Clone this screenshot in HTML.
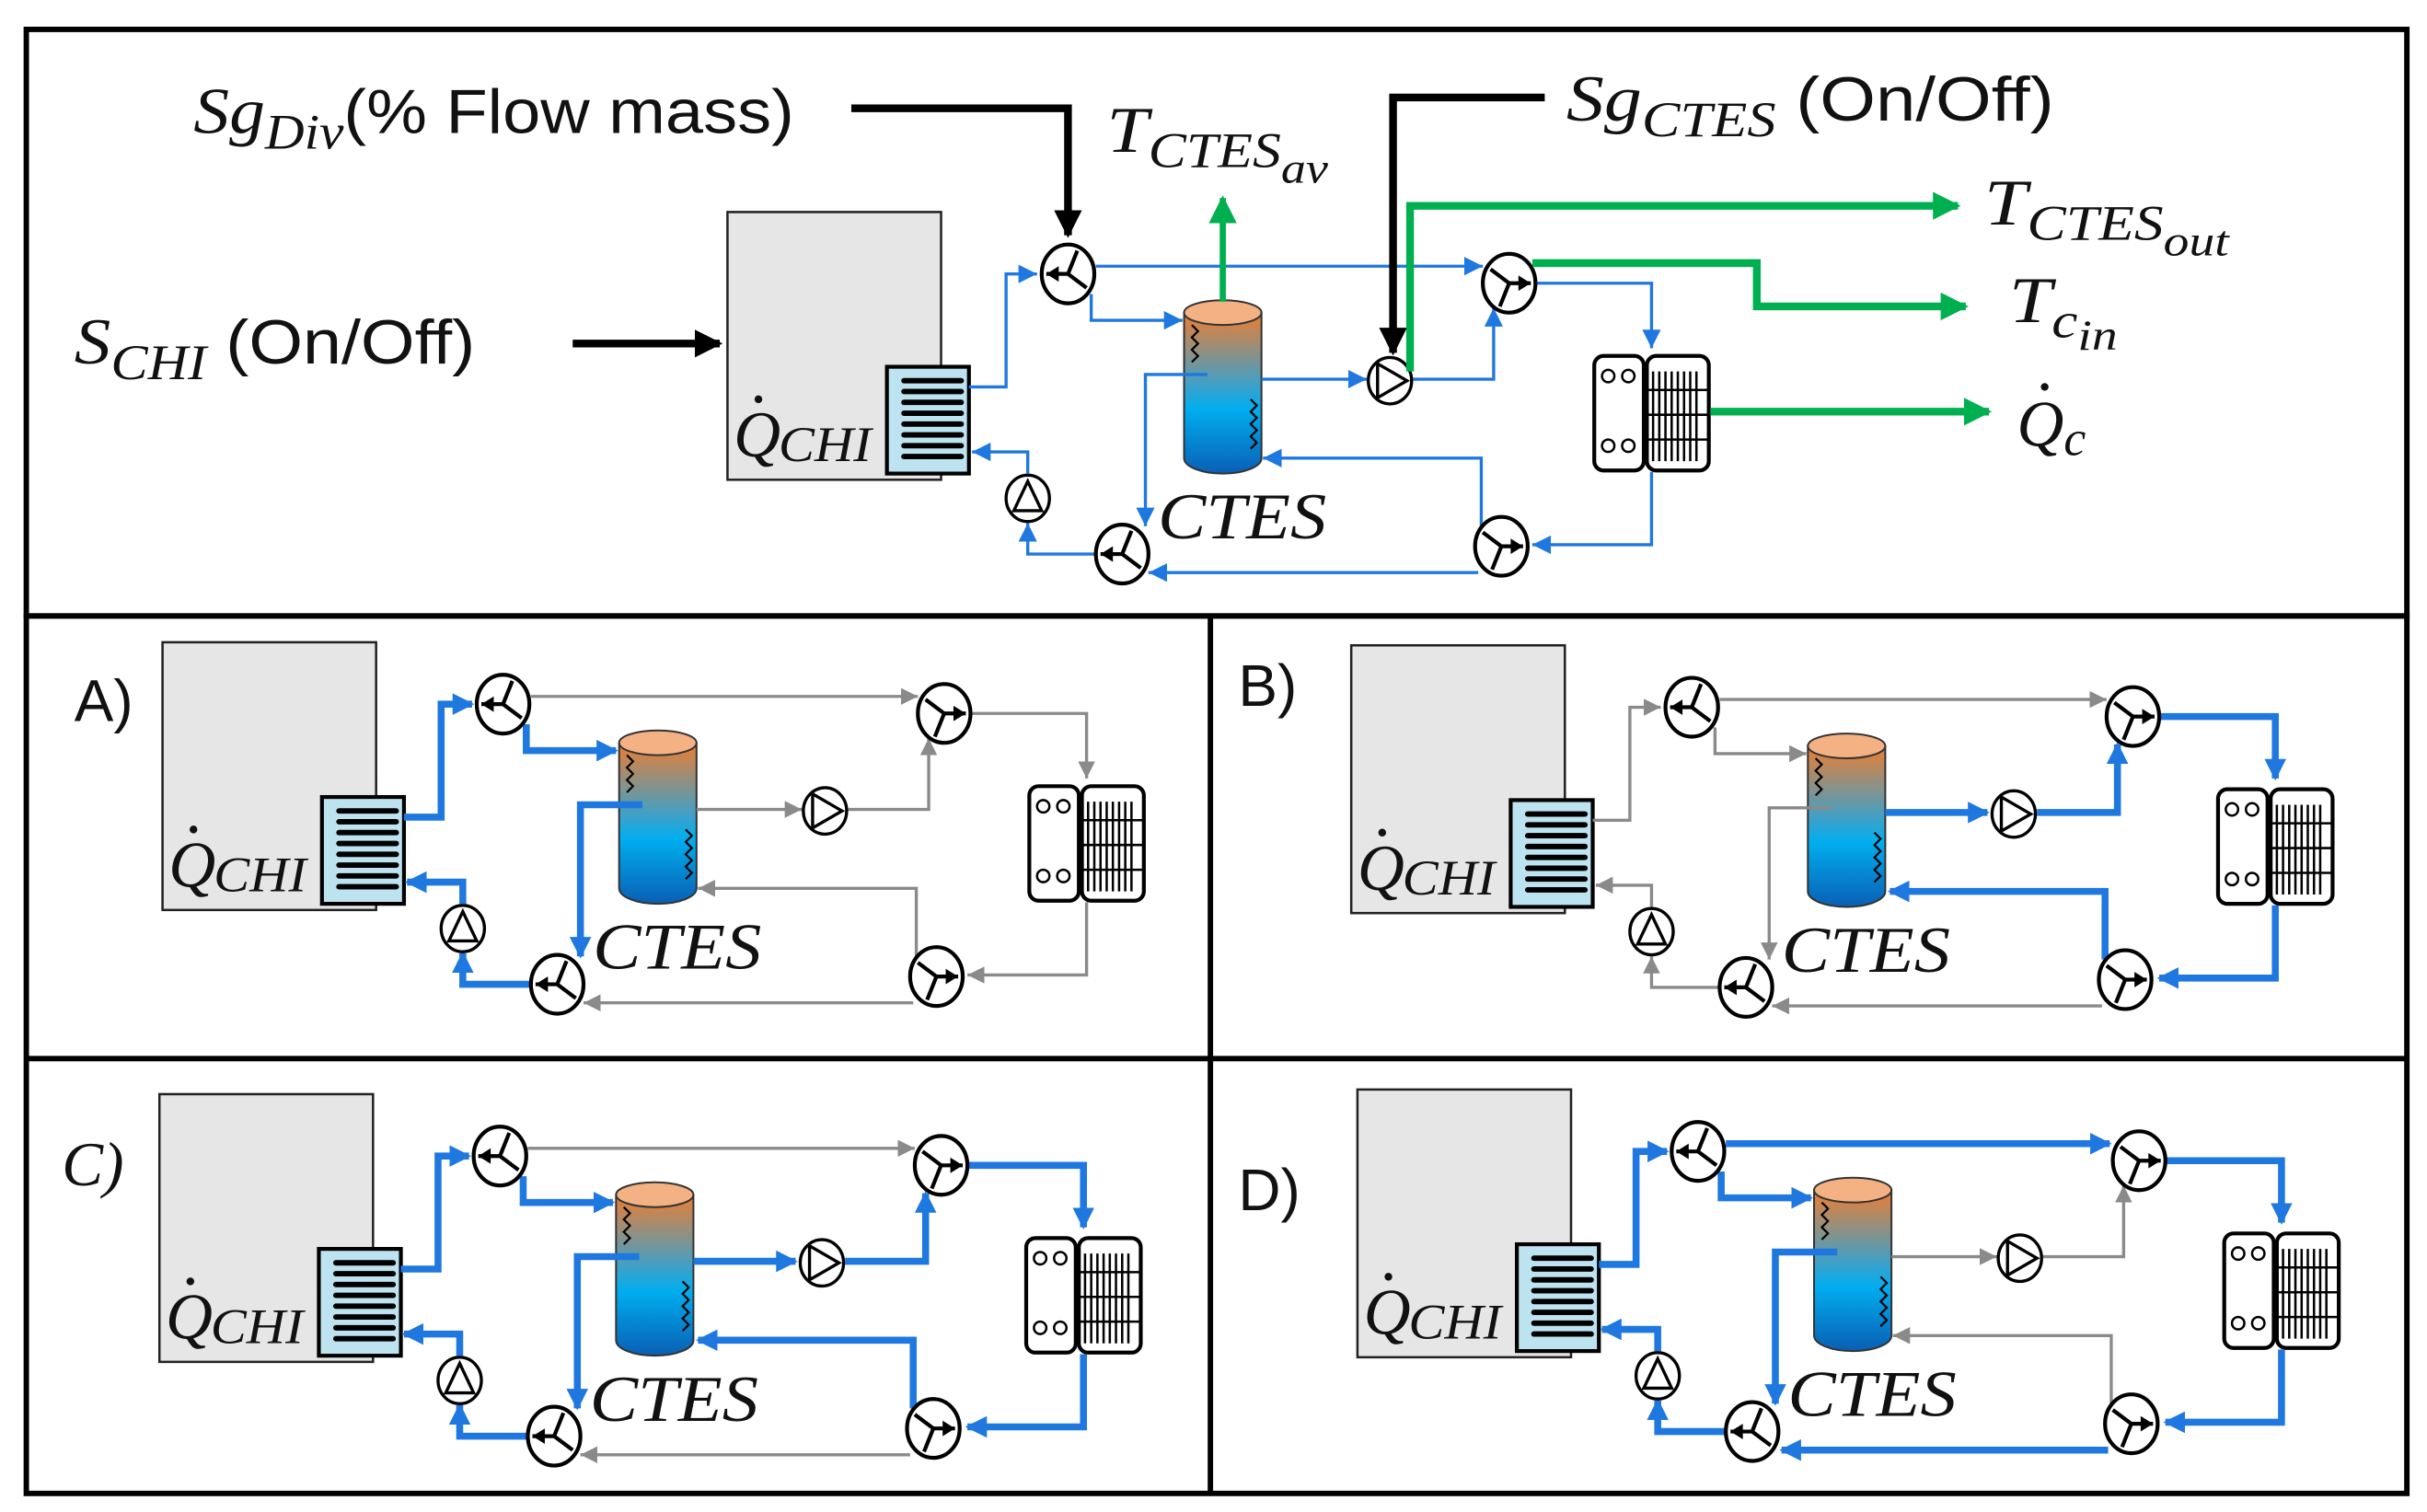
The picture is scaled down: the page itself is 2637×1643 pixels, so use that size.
<!DOCTYPE html>
<html><head><meta charset="utf-8"><style>
html,body{margin:0;padding:0;background:#fff}
svg{display:block}
.m{font-family:"Liberation Serif",serif;font-style:italic}
.s{font-family:"Liberation Sans",sans-serif}
.b{fill:none;stroke:#1f78e0;stroke-width:2;marker-end:url(#mb)}
.B{fill:none;stroke:#1f78e0;stroke-width:4.5;marker-end:url(#mB)}
.g{fill:none;stroke:#8a8a8a;stroke-width:2;marker-end:url(#mg)}
</style></head><body>
<svg width="2637" height="1643" viewBox="0 0 1568 977" preserveAspectRatio="none" xmlns="http://www.w3.org/2000/svg">
<defs>
<marker id="mb" markerUnits="userSpaceOnUse" markerWidth="12" markerHeight="12" refX="10" refY="5" orient="auto" viewBox="0 0 10 10"><path d="M0,0L10,5L0,10z" fill="#1f78e0"/></marker>
<marker id="mB" markerUnits="userSpaceOnUse" markerWidth="14" markerHeight="14" refX="9" refY="5" orient="auto" viewBox="0 0 10 10"><path d="M0,0L10,5L0,10z" fill="#1f78e0"/></marker>
<marker id="mg" markerUnits="userSpaceOnUse" markerWidth="11" markerHeight="11" refX="10" refY="5" orient="auto" viewBox="0 0 10 10"><path d="M0,0L10,5L0,10z" fill="#8a8a8a"/></marker>
<marker id="mk" markerUnits="userSpaceOnUse" markerWidth="18" markerHeight="18" refX="9" refY="5" orient="auto" viewBox="0 0 10 10"><path d="M0,0L10,5L0,10z" fill="#000"/></marker>
<marker id="mG" markerUnits="userSpaceOnUse" markerWidth="18" markerHeight="18" refX="9" refY="5" orient="auto" viewBox="0 0 10 10"><path d="M0,0L10,5L0,10z" fill="#00b050"/></marker>
<linearGradient id="tg" x1="0" y1="0" x2="0" y2="1">
<stop offset="0" stop-color="#ed7d31"/><stop offset="0.45" stop-color="#3fa0c8"/><stop offset="0.6" stop-color="#00aeef"/><stop offset="1" stop-color="#0a5fb4"/></linearGradient>
<g id="valve"><ellipse cx="0" cy="0" rx="17" ry="19" fill="#fff" stroke="#000" stroke-width="2.5"/><path d="M0,0L-12,-9M0,0L14,0M0,0L-6,15" stroke="#000" stroke-width="2.5" fill="none"/><path d="M6,-5L14,0L6,5z" fill="#000"/></g>
<g id="pumpR"><ellipse cx="0" cy="0" rx="14" ry="15" fill="#fff" stroke="#000" stroke-width="2"/><path d="M-8,-11L11,0L-8,11z" fill="none" stroke="#000" stroke-width="2"/></g>
<g id="pumpU"><ellipse cx="0" cy="0" rx="14" ry="15" fill="#fff" stroke="#000" stroke-width="2"/><path d="M-9,8L0,-11L9,8z" fill="none" stroke="#000" stroke-width="2"/></g>
<g id="hx"><rect x="1030" y="230" width="32" height="74" rx="6" fill="#fff" stroke="#000" stroke-width="2.5"/>
<circle cx="1039" cy="243" r="4" fill="none" stroke="#000" stroke-width="1.5"/><circle cx="1052" cy="243" r="4" fill="none" stroke="#000" stroke-width="1.5"/>
<circle cx="1039" cy="288" r="4" fill="none" stroke="#000" stroke-width="1.5"/><circle cx="1052" cy="288" r="4" fill="none" stroke="#000" stroke-width="1.5"/>
<rect x="1064" y="230" width="40" height="74" rx="6" fill="#fff" stroke="#000" stroke-width="2.5"/>
<path d="M1068,240V298M1072,240V298M1076,240V298M1080,240V298M1084,240V298M1088,240V298M1092,240V298M1096,240V298M1064,252H1104M1064,268H1104M1064,284H1104" stroke="#000" stroke-width="1.5"/></g>
<g id="base">
<rect x="470" y="137" width="138" height="173" fill="#e6e6e6" stroke="#222" stroke-width="1.5"/>
<circle cx="490" cy="258" r="2.5" fill="#111"/>
<text x="474" y="295" class="m" font-size="42" fill="#111">Q</text><text x="503" y="298" class="m" font-size="32" fill="#111" textLength="60" lengthAdjust="spacingAndGlyphs">CHI</text>
<rect x="573" y="237" width="53" height="69" fill="#bde3f0" stroke="#000" stroke-width="2.5"/>
<path d="M584,246H621M584,253H621M584,260H621M584,267H621M584,274H621M584,281H621M584,288H621M584,295H621" stroke="#000" stroke-width="3.5" stroke-linecap="round"/>
<path d="M765,202V296A25,10 0 0 0 815,296V202z" fill="url(#tg)" stroke="#333" stroke-width="1.2"/>
<ellipse cx="790" cy="202" rx="25" ry="8" fill="#f4b183" stroke="#333" stroke-width="1.2"/>
<path d="M770,210l4,4l-4,4l4,4l-4,4l4,4l-4,4M808,258l4,4l-4,4l4,4l-4,4l4,4l-4,4l4,4l-4,4" fill="none" stroke="#000" stroke-width="1.3"/>
<text x="748" y="348" class="m" font-size="42" fill="#111" textLength="109" lengthAdjust="spacingAndGlyphs">CTES</text>
<use href="#hx"/>
</g>
<g id="syms">
<use href="#valve" transform="translate(690,177) rotate(180)"/>
<use href="#valve" transform="translate(975,183)"/>
<use href="#valve" transform="translate(970,353)"/>
<use href="#valve" transform="translate(725,358) rotate(180)"/>
<use href="#pumpR" x="898" y="246"/>
<use href="#pumpU" x="664" y="322"/>
</g>
</defs>

<rect x="17" y="19" width="1538" height="379" fill="none" stroke="#000" stroke-width="3.5"/>
<rect x="17" y="398" width="1538" height="567" fill="none" stroke="#000" stroke-width="3.5"/>
<line x1="17" y1="684" x2="1555" y2="684" stroke="#000" stroke-width="3.5"/>
<line x1="782" y1="398" x2="782" y2="965" stroke="#000" stroke-width="3.5"/>

<g>
<use href="#base"/>
<path class="b" d="M626,250H650V177H670"/>
<path class="b" d="M708,172H958"/>
<path class="b" d="M705,190V207H764"/>
<path class="b" d="M815,245H883"/>
<path class="b" d="M913,245H965V199"/>
<path class="b" d="M993,183H1067V225"/>
<path class="b" d="M1067,305V352H990"/>
<path class="b" d="M957,340V296H816"/>
<path class="b" d="M955,370H742"/>
<path class="b" d="M780,242H740V340"/>
<path class="b" d="M707,358H664V338"/>
<path class="b" d="M664,306V292H628"/>
<use href="#syms"/>
<path d="M550,70H690V152" fill="none" stroke="#000" stroke-width="5" marker-end="url(#mk)"/>
<path d="M370,222H465" fill="none" stroke="#000" stroke-width="5" marker-end="url(#mk)"/>
<path d="M998,63H900V228" fill="none" stroke="#000" stroke-width="5" marker-end="url(#mk)"/>
<path d="M790,195V128" fill="none" stroke="#00b050" stroke-width="4" marker-end="url(#mG)"/>
<path d="M911,240V133H1265" fill="none" stroke="#00b050" stroke-width="5" marker-end="url(#mG)"/>
<path d="M990,170H1135V198H1270" fill="none" stroke="#00b050" stroke-width="5" marker-end="url(#mG)"/>
<path d="M1105,266H1285" fill="none" stroke="#00b050" stroke-width="5" marker-end="url(#mG)"/>
<text x="125" y="86" font-size="42" fill="#111" textLength="388" lengthAdjust="spacingAndGlyphs"><tspan class="m">Sg</tspan><tspan class="m" font-size="32" dy="10">Div</tspan><tspan class="s" font-size="40" dy="-10">(% Flow mass)</tspan></text>
<text x="48" y="235" font-size="42" fill="#111" textLength="259" lengthAdjust="spacingAndGlyphs"><tspan class="m">S</tspan><tspan class="m" font-size="32" dy="10">CHI</tspan><tspan class="s" font-size="40" dy="-10"> (On/Off)</tspan></text>
<text x="1012" y="78" font-size="42" fill="#111" textLength="315" lengthAdjust="spacingAndGlyphs"><tspan class="m">Sg</tspan><tspan class="m" font-size="32" dy="10">CTES</tspan><tspan class="s" font-size="40" dy="-10"> (On/Off)</tspan></text>
<text x="715" y="98" font-size="42" fill="#111" class="m" textLength="143" lengthAdjust="spacingAndGlyphs">T<tspan font-size="32" dy="10">CTES</tspan><tspan font-size="28" dy="10">av</tspan></text>
<text x="1282" y="145" font-size="42" fill="#111" class="m" textLength="158" lengthAdjust="spacingAndGlyphs">T<tspan font-size="32" dy="10">CTES</tspan><tspan font-size="28" dy="10">out</tspan></text>
<text x="1298" y="208" font-size="42" fill="#111" class="m" textLength="70" lengthAdjust="spacingAndGlyphs">T<tspan font-size="32" dy="10">c</tspan><tspan font-size="28" dy="8">in</tspan></text>
<circle cx="1321" cy="250" r="2.5" fill="#111"/>
<text x="1303" y="288" font-size="42" fill="#111" class="m">Q<tspan font-size="32" dy="6">c</tspan></text>
</g>

<g transform="translate(-365,278)">
<use href="#base"/>
<path class="B" d="M626,250H650V177H670"/>
<path class="g" d="M708,172H958"/>
<path class="B" d="M705,190V207H763"/>
<path class="g" d="M815,245H883"/>
<path class="g" d="M913,245H965V199"/>
<path class="g" d="M993,183H1067V225"/>
<path class="g" d="M1067,305V352H990"/>
<path class="g" d="M957,340V296H816"/>
<path class="g" d="M955,370H742"/>
<path class="B" d="M780,242H740V340"/>
<path class="B" d="M707,358H664V338"/>
<path class="B" d="M664,306V292H628"/>
<use href="#syms"/>
</g>
<text x="48" y="466" class="s" font-size="38" fill="#111">A)</text>

<g transform="translate(403,280)">
<use href="#base"/>
<path class="g" d="M626,250H650V177H670"/>
<path class="g" d="M708,172H958"/>
<path class="g" d="M705,190V207H764"/>
<path class="B" d="M815,245H881"/>
<path class="B" d="M913,245H965V201"/>
<path class="B" d="M993,183H1067V223"/>
<path class="B" d="M1067,305V352H992"/>
<path class="B" d="M957,340V296H818"/>
<path class="g" d="M955,370H742"/>
<path class="g" d="M780,242H740V340"/>
<path class="g" d="M707,358H664V338"/>
<path class="g" d="M664,306V292H628"/>
<use href="#syms"/>
</g>
<text x="800" y="456" class="s" font-size="38" fill="#111">B)</text>

<g transform="translate(-367,570)">
<use href="#base"/>
<path class="B" d="M626,250H650V177H670"/>
<path class="g" d="M708,172H958"/>
<path class="B" d="M705,190V207H763"/>
<path class="B" d="M815,245H881"/>
<path class="B" d="M913,245H965V201"/>
<path class="B" d="M993,183H1067V223"/>
<path class="B" d="M1067,305V352H992"/>
<path class="B" d="M957,340V296H818"/>
<path class="g" d="M955,370H742"/>
<path class="B" d="M780,242H740V340"/>
<path class="B" d="M707,358H664V338"/>
<path class="B" d="M664,306V292H628"/>
<use href="#syms"/>
</g>
<text x="40" y="766" class="m" font-size="40" fill="#111">C)</text>

<g transform="translate(407,567)">
<use href="#base"/>
<path class="B" d="M626,250H650V177H670"/>
<path class="B" d="M708,172H956"/>
<path class="B" d="M705,190V207H763"/>
<path class="g" d="M815,245H883"/>
<path class="g" d="M913,245H965V199"/>
<path class="B" d="M993,183H1067V223"/>
<path class="B" d="M1067,305V352H992"/>
<path class="g" d="M957,340V296H816"/>
<path class="B" d="M955,370H744"/>
<path class="B" d="M780,242H740V340"/>
<path class="B" d="M707,358H664V338"/>
<path class="B" d="M664,306V292H628"/>
<use href="#syms"/>
</g>
<text x="800" y="782" class="s" font-size="38" fill="#111">D)</text>
</svg>
</body></html>
